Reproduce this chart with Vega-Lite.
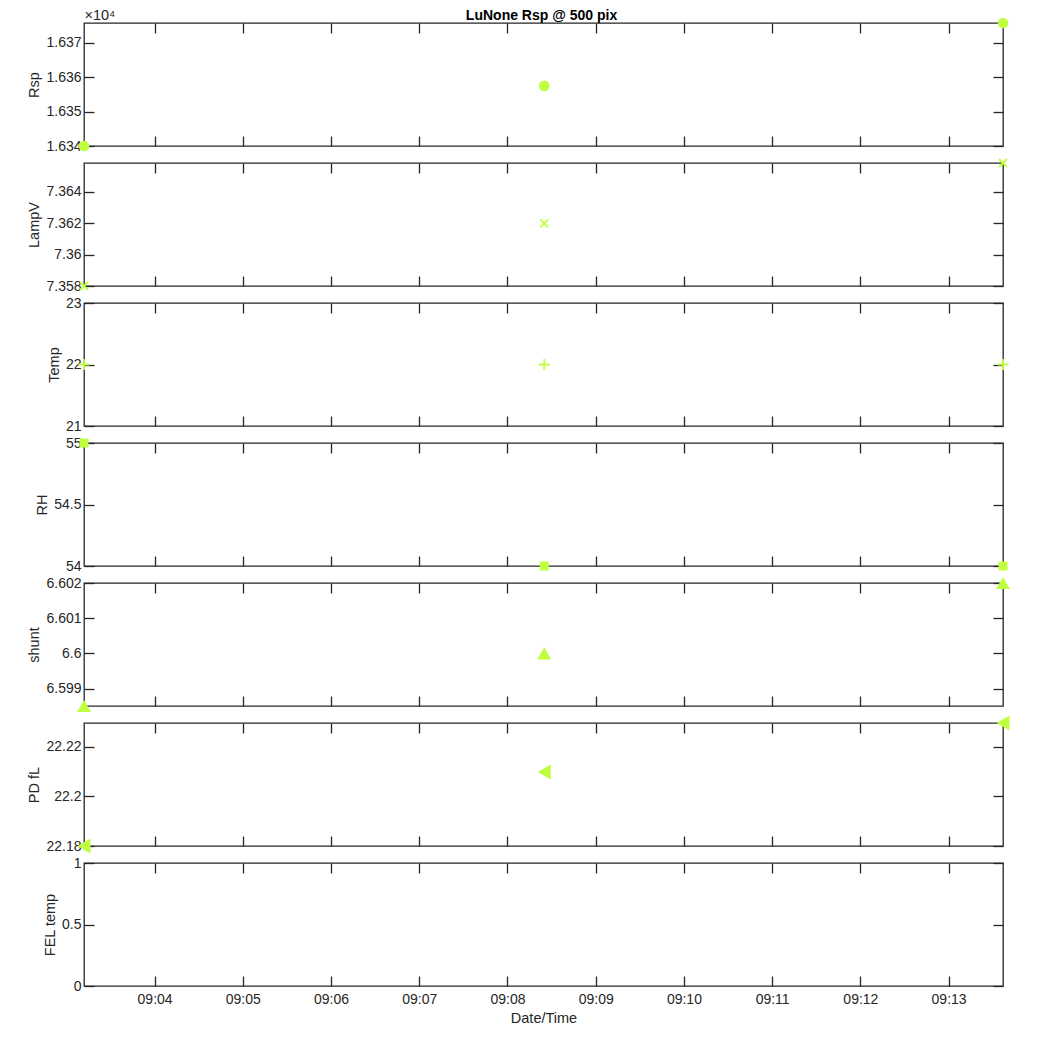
{
  "$schema": "https://vega.github.io/schema/vega-lite/v6.json",
  "background": "white",
  "padding": {"left": 26, "top": 6, "right": 5, "bottom": 5},
  "title": {"text": "LuNone Rsp @ 500 pix", "fontSize": 14, "fontWeight": "bold", "font": "Liberation Sans", "color": "#000000", "anchor": "middle", "offset": -17, "dx": 22},
  "data": {"values": [
    {"t": "2024-01-01T09:03:12", "Rsp": 16340, "LampV": 7.358, "Temp": 22, "RH": 55, "shunt": 6.59851, "PDfL": 22.18, "FEL": null},
    {"t": "2024-01-01T09:08:25", "Rsp": 16357.5, "LampV": 7.362, "Temp": 22, "RH": 54, "shunt": 6.6, "PDfL": 22.2098, "FEL": null},
    {"t": "2024-01-01T09:13:37", "Rsp": 16375.8, "LampV": 7.36585, "Temp": 22, "RH": 54, "shunt": 6.602, "PDfL": 22.2295, "FEL": null}
  ]},
  "spacing": 17,
  "bounds": "flush",
  "vconcat": [
    {
      "width": 919, "height": 123,
      "layer": [
        {"mark": {"type": "point", "filled": true, "shape": "circle", "size": 113, "color": "#bfff40", "opacity": 1},
         "encoding": {
           "x": {"field": "t", "type": "temporal", "scale": {"domain": [{"year": 2024, "month": 1, "date": 1, "hours": 9, "minutes": 3, "seconds": 12}, {"year": 2024, "month": 1, "date": 1, "hours": 9, "minutes": 13, "seconds": 37}], "nice": false},
                 "axis": {"orient": "bottom", "labels": false, "title": null, "values": [{"year": 2024, "month": 1, "date": 1, "hours": 9, "minutes": 4}, {"year": 2024, "month": 1, "date": 1, "hours": 9, "minutes": 5}, {"year": 2024, "month": 1, "date": 1, "hours": 9, "minutes": 6}, {"year": 2024, "month": 1, "date": 1, "hours": 9, "minutes": 7}, {"year": 2024, "month": 1, "date": 1, "hours": 9, "minutes": 8}, {"year": 2024, "month": 1, "date": 1, "hours": 9, "minutes": 9}, {"year": 2024, "month": 1, "date": 1, "hours": 9, "minutes": 10}, {"year": 2024, "month": 1, "date": 1, "hours": 9, "minutes": 11}, {"year": 2024, "month": 1, "date": 1, "hours": 9, "minutes": 12}, {"year": 2024, "month": 1, "date": 1, "hours": 9, "minutes": 13}]}},
           "y": {"field": "Rsp", "type": "quantitative", "scale": {"domain": [16340, 16375.8], "zero": false, "nice": false},
                 "axis": {"orient": "left", "title": "Rsp", "values": [16340, 16350, 16360, 16370], "labelExpr": "format(datum.value/10000, '.3f')"}}
         }},
        {"mark": {"type": "point", "opacity": 0},
         "encoding": {
           "x": {"field": "t", "type": "temporal", "scale": {"domain": [{"year": 2024, "month": 1, "date": 1, "hours": 9, "minutes": 3, "seconds": 12}, {"year": 2024, "month": 1, "date": 1, "hours": 9, "minutes": 13, "seconds": 37}], "nice": false},
                 "axis": {"orient": "top", "labels": false, "title": "×10⁴", "titleX": 0, "titleY": -4, "titleAlign": "left", "titleBaseline": "alphabetic", "titleAngle": 0, "titleFontSize": 14.5, "values": [{"year": 2024, "month": 1, "date": 1, "hours": 9, "minutes": 4}, {"year": 2024, "month": 1, "date": 1, "hours": 9, "minutes": 5}, {"year": 2024, "month": 1, "date": 1, "hours": 9, "minutes": 6}, {"year": 2024, "month": 1, "date": 1, "hours": 9, "minutes": 7}, {"year": 2024, "month": 1, "date": 1, "hours": 9, "minutes": 8}, {"year": 2024, "month": 1, "date": 1, "hours": 9, "minutes": 9}, {"year": 2024, "month": 1, "date": 1, "hours": 9, "minutes": 10}, {"year": 2024, "month": 1, "date": 1, "hours": 9, "minutes": 11}, {"year": 2024, "month": 1, "date": 1, "hours": 9, "minutes": 12}, {"year": 2024, "month": 1, "date": 1, "hours": 9, "minutes": 13}]}},
           "y": {"field": "Rsp", "type": "quantitative", "scale": {"domain": [16340, 16375.8], "zero": false, "nice": false},
                 "axis": {"orient": "right", "labels": false, "title": null, "values": [16340, 16350, 16360, 16370]}}
         }}
      ],
      "resolve": {"axis": {"x": "independent", "y": "independent"}}
    },
    {
      "width": 919, "height": 123,
      "layer": [
        {"mark": {"type": "point", "filled": false, "shape": "M-1,-1L1,1M-1,1L1,-1", "size": 64, "strokeWidth": 1.8, "color": "#bfff40", "opacity": 1},
         "encoding": {
           "x": {"field": "t", "type": "temporal", "scale": {"domain": [{"year": 2024, "month": 1, "date": 1, "hours": 9, "minutes": 3, "seconds": 12}, {"year": 2024, "month": 1, "date": 1, "hours": 9, "minutes": 13, "seconds": 37}], "nice": false},
                 "axis": {"orient": "bottom", "labels": false, "title": null, "values": [{"year": 2024, "month": 1, "date": 1, "hours": 9, "minutes": 4}, {"year": 2024, "month": 1, "date": 1, "hours": 9, "minutes": 5}, {"year": 2024, "month": 1, "date": 1, "hours": 9, "minutes": 6}, {"year": 2024, "month": 1, "date": 1, "hours": 9, "minutes": 7}, {"year": 2024, "month": 1, "date": 1, "hours": 9, "minutes": 8}, {"year": 2024, "month": 1, "date": 1, "hours": 9, "minutes": 9}, {"year": 2024, "month": 1, "date": 1, "hours": 9, "minutes": 10}, {"year": 2024, "month": 1, "date": 1, "hours": 9, "minutes": 11}, {"year": 2024, "month": 1, "date": 1, "hours": 9, "minutes": 12}, {"year": 2024, "month": 1, "date": 1, "hours": 9, "minutes": 13}]}},
           "y": {"field": "LampV", "type": "quantitative", "scale": {"domain": [7.358, 7.36585], "zero": false, "nice": false},
                 "axis": {"orient": "left", "title": "LampV", "values": [7.358, 7.36, 7.362, 7.364], "format": "~g"}}
         }},
        {"mark": {"type": "point", "opacity": 0},
         "encoding": {
           "x": {"field": "t", "type": "temporal", "scale": {"domain": [{"year": 2024, "month": 1, "date": 1, "hours": 9, "minutes": 3, "seconds": 12}, {"year": 2024, "month": 1, "date": 1, "hours": 9, "minutes": 13, "seconds": 37}], "nice": false},
                 "axis": {"orient": "top", "labels": false, "title": null, "values": [{"year": 2024, "month": 1, "date": 1, "hours": 9, "minutes": 4}, {"year": 2024, "month": 1, "date": 1, "hours": 9, "minutes": 5}, {"year": 2024, "month": 1, "date": 1, "hours": 9, "minutes": 6}, {"year": 2024, "month": 1, "date": 1, "hours": 9, "minutes": 7}, {"year": 2024, "month": 1, "date": 1, "hours": 9, "minutes": 8}, {"year": 2024, "month": 1, "date": 1, "hours": 9, "minutes": 9}, {"year": 2024, "month": 1, "date": 1, "hours": 9, "minutes": 10}, {"year": 2024, "month": 1, "date": 1, "hours": 9, "minutes": 11}, {"year": 2024, "month": 1, "date": 1, "hours": 9, "minutes": 12}, {"year": 2024, "month": 1, "date": 1, "hours": 9, "minutes": 13}]}},
           "y": {"field": "LampV", "type": "quantitative", "scale": {"domain": [7.358, 7.36585], "zero": false, "nice": false},
                 "axis": {"orient": "right", "labels": false, "title": null, "values": [7.358, 7.36, 7.362, 7.364]}}
         }}
      ],
      "resolve": {"axis": {"x": "independent", "y": "independent"}}
    },
    {
      "width": 919, "height": 123,
      "layer": [
        {"mark": {"type": "point", "filled": false, "shape": "M-1,0L1,0M0,-1L0,1", "size": 121, "strokeWidth": 1.8, "color": "#bfff40", "opacity": 1},
         "encoding": {
           "x": {"field": "t", "type": "temporal", "scale": {"domain": [{"year": 2024, "month": 1, "date": 1, "hours": 9, "minutes": 3, "seconds": 12}, {"year": 2024, "month": 1, "date": 1, "hours": 9, "minutes": 13, "seconds": 37}], "nice": false},
                 "axis": {"orient": "bottom", "labels": false, "title": null, "values": [{"year": 2024, "month": 1, "date": 1, "hours": 9, "minutes": 4}, {"year": 2024, "month": 1, "date": 1, "hours": 9, "minutes": 5}, {"year": 2024, "month": 1, "date": 1, "hours": 9, "minutes": 6}, {"year": 2024, "month": 1, "date": 1, "hours": 9, "minutes": 7}, {"year": 2024, "month": 1, "date": 1, "hours": 9, "minutes": 8}, {"year": 2024, "month": 1, "date": 1, "hours": 9, "minutes": 9}, {"year": 2024, "month": 1, "date": 1, "hours": 9, "minutes": 10}, {"year": 2024, "month": 1, "date": 1, "hours": 9, "minutes": 11}, {"year": 2024, "month": 1, "date": 1, "hours": 9, "minutes": 12}, {"year": 2024, "month": 1, "date": 1, "hours": 9, "minutes": 13}]}},
           "y": {"field": "Temp", "type": "quantitative", "scale": {"domain": [21, 23], "zero": false, "nice": false},
                 "axis": {"orient": "left", "title": "Temp", "values": [21, 22, 23], "format": "~g"}}
         }},
        {"mark": {"type": "point", "opacity": 0},
         "encoding": {
           "x": {"field": "t", "type": "temporal", "scale": {"domain": [{"year": 2024, "month": 1, "date": 1, "hours": 9, "minutes": 3, "seconds": 12}, {"year": 2024, "month": 1, "date": 1, "hours": 9, "minutes": 13, "seconds": 37}], "nice": false},
                 "axis": {"orient": "top", "labels": false, "title": null, "values": [{"year": 2024, "month": 1, "date": 1, "hours": 9, "minutes": 4}, {"year": 2024, "month": 1, "date": 1, "hours": 9, "minutes": 5}, {"year": 2024, "month": 1, "date": 1, "hours": 9, "minutes": 6}, {"year": 2024, "month": 1, "date": 1, "hours": 9, "minutes": 7}, {"year": 2024, "month": 1, "date": 1, "hours": 9, "minutes": 8}, {"year": 2024, "month": 1, "date": 1, "hours": 9, "minutes": 9}, {"year": 2024, "month": 1, "date": 1, "hours": 9, "minutes": 10}, {"year": 2024, "month": 1, "date": 1, "hours": 9, "minutes": 11}, {"year": 2024, "month": 1, "date": 1, "hours": 9, "minutes": 12}, {"year": 2024, "month": 1, "date": 1, "hours": 9, "minutes": 13}]}},
           "y": {"field": "Temp", "type": "quantitative", "scale": {"domain": [21, 23], "zero": false, "nice": false},
                 "axis": {"orient": "right", "labels": false, "title": null, "values": [21, 22, 23]}}
         }}
      ],
      "resolve": {"axis": {"x": "independent", "y": "independent"}}
    },
    {
      "width": 919, "height": 123,
      "layer": [
        {"mark": {"type": "point", "filled": true, "shape": "square", "size": 81, "color": "#bfff40", "opacity": 1},
         "encoding": {
           "x": {"field": "t", "type": "temporal", "scale": {"domain": [{"year": 2024, "month": 1, "date": 1, "hours": 9, "minutes": 3, "seconds": 12}, {"year": 2024, "month": 1, "date": 1, "hours": 9, "minutes": 13, "seconds": 37}], "nice": false},
                 "axis": {"orient": "bottom", "labels": false, "title": null, "values": [{"year": 2024, "month": 1, "date": 1, "hours": 9, "minutes": 4}, {"year": 2024, "month": 1, "date": 1, "hours": 9, "minutes": 5}, {"year": 2024, "month": 1, "date": 1, "hours": 9, "minutes": 6}, {"year": 2024, "month": 1, "date": 1, "hours": 9, "minutes": 7}, {"year": 2024, "month": 1, "date": 1, "hours": 9, "minutes": 8}, {"year": 2024, "month": 1, "date": 1, "hours": 9, "minutes": 9}, {"year": 2024, "month": 1, "date": 1, "hours": 9, "minutes": 10}, {"year": 2024, "month": 1, "date": 1, "hours": 9, "minutes": 11}, {"year": 2024, "month": 1, "date": 1, "hours": 9, "minutes": 12}, {"year": 2024, "month": 1, "date": 1, "hours": 9, "minutes": 13}]}},
           "y": {"field": "RH", "type": "quantitative", "scale": {"domain": [54, 55], "zero": false, "nice": false},
                 "axis": {"orient": "left", "title": "RH", "values": [54, 54.5, 55], "format": "~g"}}
         }},
        {"mark": {"type": "point", "opacity": 0},
         "encoding": {
           "x": {"field": "t", "type": "temporal", "scale": {"domain": [{"year": 2024, "month": 1, "date": 1, "hours": 9, "minutes": 3, "seconds": 12}, {"year": 2024, "month": 1, "date": 1, "hours": 9, "minutes": 13, "seconds": 37}], "nice": false},
                 "axis": {"orient": "top", "labels": false, "title": null, "values": [{"year": 2024, "month": 1, "date": 1, "hours": 9, "minutes": 4}, {"year": 2024, "month": 1, "date": 1, "hours": 9, "minutes": 5}, {"year": 2024, "month": 1, "date": 1, "hours": 9, "minutes": 6}, {"year": 2024, "month": 1, "date": 1, "hours": 9, "minutes": 7}, {"year": 2024, "month": 1, "date": 1, "hours": 9, "minutes": 8}, {"year": 2024, "month": 1, "date": 1, "hours": 9, "minutes": 9}, {"year": 2024, "month": 1, "date": 1, "hours": 9, "minutes": 10}, {"year": 2024, "month": 1, "date": 1, "hours": 9, "minutes": 11}, {"year": 2024, "month": 1, "date": 1, "hours": 9, "minutes": 12}, {"year": 2024, "month": 1, "date": 1, "hours": 9, "minutes": 13}]}},
           "y": {"field": "RH", "type": "quantitative", "scale": {"domain": [54, 55], "zero": false, "nice": false},
                 "axis": {"orient": "right", "labels": false, "title": null, "values": [54, 54.5, 55]}}
         }}
      ],
      "resolve": {"axis": {"x": "independent", "y": "independent"}}
    },
    {
      "width": 919, "height": 123,
      "layer": [
        {"mark": {"type": "point", "filled": true, "shape": "triangle-up", "size": 200, "color": "#bfff40", "opacity": 1},
         "encoding": {
           "x": {"field": "t", "type": "temporal", "scale": {"domain": [{"year": 2024, "month": 1, "date": 1, "hours": 9, "minutes": 3, "seconds": 12}, {"year": 2024, "month": 1, "date": 1, "hours": 9, "minutes": 13, "seconds": 37}], "nice": false},
                 "axis": {"orient": "bottom", "labels": false, "title": null, "values": [{"year": 2024, "month": 1, "date": 1, "hours": 9, "minutes": 4}, {"year": 2024, "month": 1, "date": 1, "hours": 9, "minutes": 5}, {"year": 2024, "month": 1, "date": 1, "hours": 9, "minutes": 6}, {"year": 2024, "month": 1, "date": 1, "hours": 9, "minutes": 7}, {"year": 2024, "month": 1, "date": 1, "hours": 9, "minutes": 8}, {"year": 2024, "month": 1, "date": 1, "hours": 9, "minutes": 9}, {"year": 2024, "month": 1, "date": 1, "hours": 9, "minutes": 10}, {"year": 2024, "month": 1, "date": 1, "hours": 9, "minutes": 11}, {"year": 2024, "month": 1, "date": 1, "hours": 9, "minutes": 12}, {"year": 2024, "month": 1, "date": 1, "hours": 9, "minutes": 13}]}},
           "y": {"field": "shunt", "type": "quantitative", "scale": {"domain": [6.59851, 6.602], "zero": false, "nice": false},
                 "axis": {"orient": "left", "title": "shunt", "values": [6.599, 6.6, 6.601, 6.602], "format": "~g"}}
         }},
        {"mark": {"type": "point", "opacity": 0},
         "encoding": {
           "x": {"field": "t", "type": "temporal", "scale": {"domain": [{"year": 2024, "month": 1, "date": 1, "hours": 9, "minutes": 3, "seconds": 12}, {"year": 2024, "month": 1, "date": 1, "hours": 9, "minutes": 13, "seconds": 37}], "nice": false},
                 "axis": {"orient": "top", "labels": false, "title": null, "values": [{"year": 2024, "month": 1, "date": 1, "hours": 9, "minutes": 4}, {"year": 2024, "month": 1, "date": 1, "hours": 9, "minutes": 5}, {"year": 2024, "month": 1, "date": 1, "hours": 9, "minutes": 6}, {"year": 2024, "month": 1, "date": 1, "hours": 9, "minutes": 7}, {"year": 2024, "month": 1, "date": 1, "hours": 9, "minutes": 8}, {"year": 2024, "month": 1, "date": 1, "hours": 9, "minutes": 9}, {"year": 2024, "month": 1, "date": 1, "hours": 9, "minutes": 10}, {"year": 2024, "month": 1, "date": 1, "hours": 9, "minutes": 11}, {"year": 2024, "month": 1, "date": 1, "hours": 9, "minutes": 12}, {"year": 2024, "month": 1, "date": 1, "hours": 9, "minutes": 13}]}},
           "y": {"field": "shunt", "type": "quantitative", "scale": {"domain": [6.59851, 6.602], "zero": false, "nice": false},
                 "axis": {"orient": "right", "labels": false, "title": null, "values": [6.599, 6.6, 6.601, 6.602]}}
         }}
      ],
      "resolve": {"axis": {"x": "independent", "y": "independent"}}
    },
    {
      "width": 919, "height": 123,
      "layer": [
        {"mark": {"type": "point", "filled": true, "shape": "triangle-left", "size": 225, "color": "#bfff40", "opacity": 1},
         "encoding": {
           "x": {"field": "t", "type": "temporal", "scale": {"domain": [{"year": 2024, "month": 1, "date": 1, "hours": 9, "minutes": 3, "seconds": 12}, {"year": 2024, "month": 1, "date": 1, "hours": 9, "minutes": 13, "seconds": 37}], "nice": false},
                 "axis": {"orient": "bottom", "labels": false, "title": null, "values": [{"year": 2024, "month": 1, "date": 1, "hours": 9, "minutes": 4}, {"year": 2024, "month": 1, "date": 1, "hours": 9, "minutes": 5}, {"year": 2024, "month": 1, "date": 1, "hours": 9, "minutes": 6}, {"year": 2024, "month": 1, "date": 1, "hours": 9, "minutes": 7}, {"year": 2024, "month": 1, "date": 1, "hours": 9, "minutes": 8}, {"year": 2024, "month": 1, "date": 1, "hours": 9, "minutes": 9}, {"year": 2024, "month": 1, "date": 1, "hours": 9, "minutes": 10}, {"year": 2024, "month": 1, "date": 1, "hours": 9, "minutes": 11}, {"year": 2024, "month": 1, "date": 1, "hours": 9, "minutes": 12}, {"year": 2024, "month": 1, "date": 1, "hours": 9, "minutes": 13}]}},
           "y": {"field": "PDfL", "type": "quantitative", "scale": {"domain": [22.18, 22.2295], "zero": false, "nice": false},
                 "axis": {"orient": "left", "title": "PD fL", "values": [22.18, 22.2, 22.22], "format": "~g"}}
         }},
        {"mark": {"type": "point", "opacity": 0},
         "encoding": {
           "x": {"field": "t", "type": "temporal", "scale": {"domain": [{"year": 2024, "month": 1, "date": 1, "hours": 9, "minutes": 3, "seconds": 12}, {"year": 2024, "month": 1, "date": 1, "hours": 9, "minutes": 13, "seconds": 37}], "nice": false},
                 "axis": {"orient": "top", "labels": false, "title": null, "values": [{"year": 2024, "month": 1, "date": 1, "hours": 9, "minutes": 4}, {"year": 2024, "month": 1, "date": 1, "hours": 9, "minutes": 5}, {"year": 2024, "month": 1, "date": 1, "hours": 9, "minutes": 6}, {"year": 2024, "month": 1, "date": 1, "hours": 9, "minutes": 7}, {"year": 2024, "month": 1, "date": 1, "hours": 9, "minutes": 8}, {"year": 2024, "month": 1, "date": 1, "hours": 9, "minutes": 9}, {"year": 2024, "month": 1, "date": 1, "hours": 9, "minutes": 10}, {"year": 2024, "month": 1, "date": 1, "hours": 9, "minutes": 11}, {"year": 2024, "month": 1, "date": 1, "hours": 9, "minutes": 12}, {"year": 2024, "month": 1, "date": 1, "hours": 9, "minutes": 13}]}},
           "y": {"field": "PDfL", "type": "quantitative", "scale": {"domain": [22.18, 22.2295], "zero": false, "nice": false},
                 "axis": {"orient": "right", "labels": false, "title": null, "values": [22.18, 22.2, 22.22]}}
         }}
      ],
      "resolve": {"axis": {"x": "independent", "y": "independent"}}
    },
    {
      "width": 919, "height": 123,
      "layer": [
        {"mark": {"type": "point", "filled": true, "shape": "circle", "size": 100, "color": "#bfff40", "opacity": 1},
         "encoding": {
           "x": {"field": "t", "type": "temporal", "scale": {"domain": [{"year": 2024, "month": 1, "date": 1, "hours": 9, "minutes": 3, "seconds": 12}, {"year": 2024, "month": 1, "date": 1, "hours": 9, "minutes": 13, "seconds": 37}], "nice": false},
                 "axis": {"orient": "bottom", "labels": true, "format": "%H:%M", "title": "Date/Time", "labelPadding": 16, "titlePadding": 5, "values": [{"year": 2024, "month": 1, "date": 1, "hours": 9, "minutes": 4}, {"year": 2024, "month": 1, "date": 1, "hours": 9, "minutes": 5}, {"year": 2024, "month": 1, "date": 1, "hours": 9, "minutes": 6}, {"year": 2024, "month": 1, "date": 1, "hours": 9, "minutes": 7}, {"year": 2024, "month": 1, "date": 1, "hours": 9, "minutes": 8}, {"year": 2024, "month": 1, "date": 1, "hours": 9, "minutes": 9}, {"year": 2024, "month": 1, "date": 1, "hours": 9, "minutes": 10}, {"year": 2024, "month": 1, "date": 1, "hours": 9, "minutes": 11}, {"year": 2024, "month": 1, "date": 1, "hours": 9, "minutes": 12}, {"year": 2024, "month": 1, "date": 1, "hours": 9, "minutes": 13}]}},
           "y": {"field": "FEL", "type": "quantitative", "scale": {"domain": [0, 1], "zero": false, "nice": false},
                 "axis": {"orient": "left", "title": "FEL temp", "values": [0, 0.5, 1], "format": "~g"}}
         }},
        {"mark": {"type": "point", "opacity": 0},
         "encoding": {
           "x": {"field": "t", "type": "temporal", "scale": {"domain": [{"year": 2024, "month": 1, "date": 1, "hours": 9, "minutes": 3, "seconds": 12}, {"year": 2024, "month": 1, "date": 1, "hours": 9, "minutes": 13, "seconds": 37}], "nice": false},
                 "axis": {"orient": "top", "labels": false, "title": null, "values": [{"year": 2024, "month": 1, "date": 1, "hours": 9, "minutes": 4}, {"year": 2024, "month": 1, "date": 1, "hours": 9, "minutes": 5}, {"year": 2024, "month": 1, "date": 1, "hours": 9, "minutes": 6}, {"year": 2024, "month": 1, "date": 1, "hours": 9, "minutes": 7}, {"year": 2024, "month": 1, "date": 1, "hours": 9, "minutes": 8}, {"year": 2024, "month": 1, "date": 1, "hours": 9, "minutes": 9}, {"year": 2024, "month": 1, "date": 1, "hours": 9, "minutes": 10}, {"year": 2024, "month": 1, "date": 1, "hours": 9, "minutes": 11}, {"year": 2024, "month": 1, "date": 1, "hours": 9, "minutes": 12}, {"year": 2024, "month": 1, "date": 1, "hours": 9, "minutes": 13}]}},
           "y": {"field": "FEL", "type": "quantitative", "scale": {"domain": [0, 1], "zero": false, "nice": false},
                 "axis": {"orient": "right", "labels": false, "title": null, "values": [0, 0.5, 1]}}
         }}
      ],
      "resolve": {"axis": {"x": "independent", "y": "independent"}}
    }
  ],
  "config": {
    "font": "Liberation Sans",
    "view": {"stroke": "#262626", "strokeWidth": 1.3},
    "axis": {
      "domain": false, "grid": false,
      "tickColor": "#262626", "tickSize": -10, "tickWidth": 1.3,
      "labelFont": "Liberation Sans", "labelFontSize": 14, "labelColor": "#262626", "labelPadding": 13, "labelOverlap": false,
      "titleFont": "Liberation Sans", "titleFontSize": 14.5, "titleFontWeight": "normal", "titleColor": "#262626", "titlePadding": 4
    }
  }
}
